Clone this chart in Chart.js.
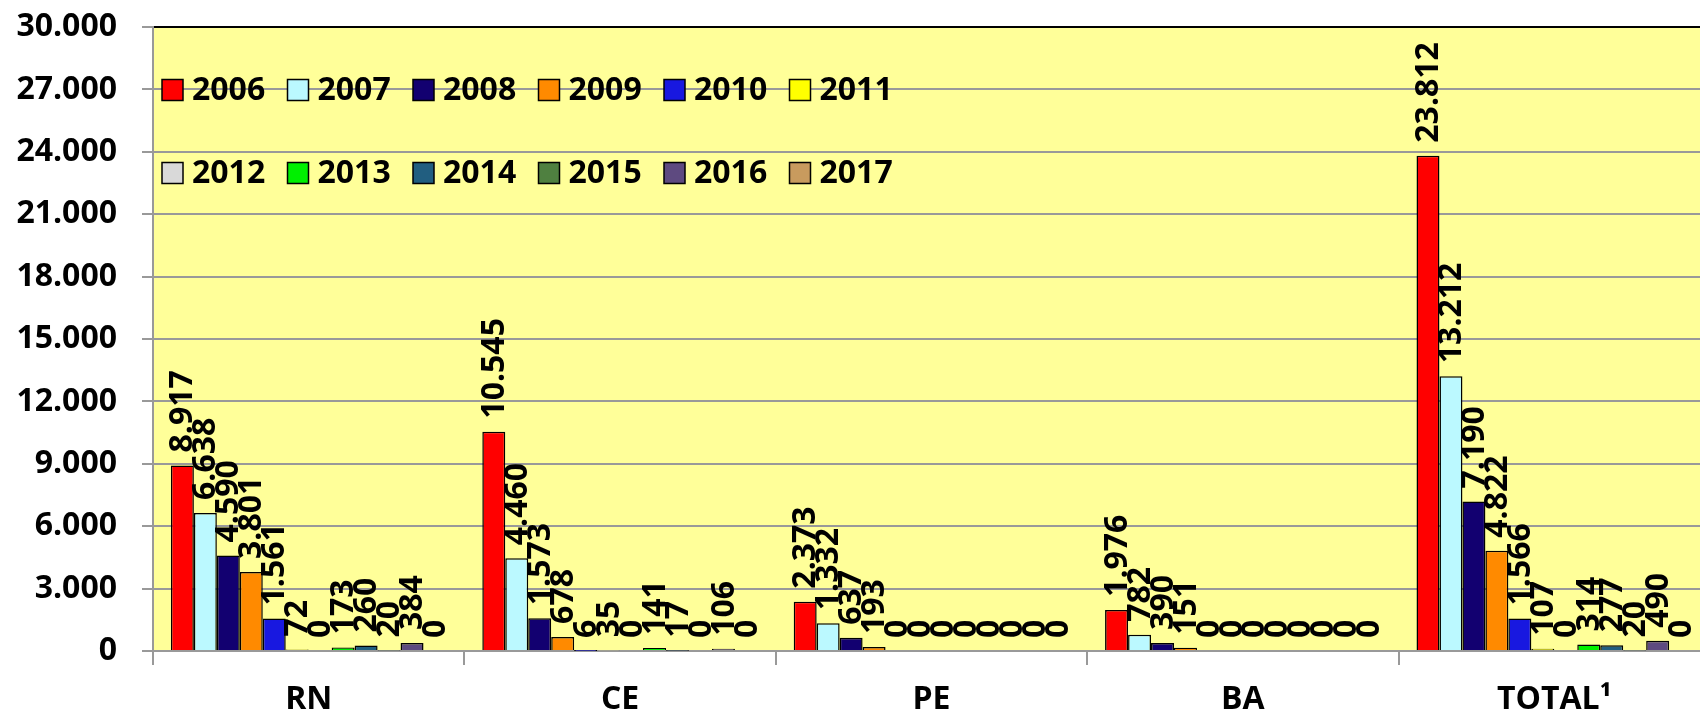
<!DOCTYPE html>
<html>
<head>
<meta charset="utf-8">
<script src="https://cdn.jsdelivr.net/npm/chart.js@4.4.1/dist/chart.umd.min.js"></script>
<style>
  body { margin: 0; overflow: hidden; background: #fff; }
  canvas { display: block; }
</style>
</head>
<body>
<canvas id="chart" width="1712" height="711"></canvas>
<script>
const categories = ['RN', 'CE', 'PE', 'BA', 'TOTAL¹'];
const years = ['2006', '2007', '2008', '2009', '2010', '2011', '2012', '2013', '2014', '2015', '2016', '2017'];

// values per year, in category order RN, CE, PE, BA, TOTAL
const y2006 = [8917, 10545, 2373, 1976, 23812];
const y2007 = [6638, 4460, 1332, 782, 13212];
const y2008 = [4590, 1573, 637, 390, 7190];
const y2009 = [3801, 678, 193, 151, 4822];
const y2010 = [1561, 6, 0, 0, 1566];
const y2011 = [72, 35, 0, 0, 107];
const y2012 = [0, 0, 0, 0, 0];
const y2013 = [173, 141, 0, 0, 314];
const y2014 = [260, 17, 0, 0, 277];
const y2015 = [20, 0, 0, 0, 20];
const y2016 = [384, 106, 0, 0, 490];
const y2017 = [0, 0, 0, 0, 0];

const series = [y2006, y2007, y2008, y2009, y2010, y2011, y2012, y2013, y2014, y2015, y2016, y2017];
const colors = ['#FF0000', '#BBF9FF', '#120070', '#FF8A00', '#1818E0', '#FFFF00',
                '#D9D9D9', '#00F000', '#215E80', '#4F8040', '#5E4A80', '#C89B5E'];

const FONT = { family: '"Open Sans", sans-serif', size: 32, weight: 'bold' };
const fmt = v => String(v).replace(/\B(?=(\d{3})+(?!\d))/g, '.');

// yellow plot background
const plotBg = {
    id: 'plotBg',
    beforeDraw(chart) {
        const { ctx, chartArea: a } = chart;
        ctx.save();
        ctx.fillStyle = '#fff';
        ctx.fillRect(0, 0, chart.width, chart.height);
        ctx.fillStyle = '#FFFF99';
        ctx.fillRect(a.left, a.top, a.right - a.left, a.bottom - a.top);
        ctx.restore();
    }
};

// vertical value labels above each bar
const barLabels = {
    id: 'barLabels',
    afterDatasetsDraw(chart) {
        const ctx = chart.ctx;
        ctx.save();
        ctx.font = `${FONT.weight} ${FONT.size}px ${FONT.family}`;
        ctx.fillStyle = '#000';
        ctx.textAlign = 'left';
        ctx.textBaseline = 'middle';
        chart.data.datasets.forEach((ds, i) => {
            chart.getDatasetMeta(i).data.forEach((bar, j) => {
                ctx.save();
                ctx.translate(bar.x + 1, bar.y - 13);
                ctx.rotate(-Math.PI / 2);
                ctx.fillText(fmt(ds.data[j]), 0, 0);
                ctx.restore();
            });
        });
        ctx.restore();
    }
};

// legend inside the plot, two rows of six
const innerLegend = {
    id: 'innerLegend',
    afterDraw(chart) {
        const ctx = chart.ctx;
        ctx.save();
        ctx.font = `${FONT.weight} ${FONT.size}px ${FONT.family}`;
        ctx.textAlign = 'left';
        ctx.textBaseline = 'middle';
        chart.data.datasets.forEach((ds, i) => {
            const x = 162 + (i % 6) * 125.5;
            const y = i < 6 ? 90 : 173;
            ctx.fillStyle = ds.backgroundColor;
            ctx.fillRect(x, y - 10.5, 21, 21);
            ctx.strokeStyle = '#000';
            ctx.lineWidth = 1.5;
            ctx.strokeRect(x, y - 10.5, 21, 21);
            ctx.fillStyle = '#000';
            ctx.fillText(ds.label, x + 30, y + 1);
        });
        ctx.restore();
    }
};

new Chart(document.getElementById('chart').getContext('2d'), {
    type: 'bar',
    data: {
        labels: categories,
        datasets: years.map((yr, i) => ({
            label: yr,
            data: series[i],
            backgroundColor: colors[i],
            borderColor: '#000',
            borderWidth: 1.5,
            categoryPercentage: 0.885,
            barPercentage: 1
        }))
    },
    options: {
        responsive: false,
        animation: false,
        layout: { padding: { top: 27, right: 2, left: 0, bottom: 0 } },
        plugins: {
            legend: { display: false },
            tooltip: { enabled: false }
        },
        scales: {
            x: {
                offset: true,
                grid: { offset: true, drawOnChartArea: false, tickLength: 14, color: '#999', lineWidth: 2 },
                border: { color: '#999', width: 2 },
                ticks: { font: FONT, color: '#000', padding: 16 },
                afterFit(s) { s.height = 60; s.paddingLeft = 0; s.paddingRight = 0; }
            },
            y: {
                min: 0,
                max: 30000,
                ticks: { stepSize: 3000, font: FONT, color: '#000', padding: 25, callback: v => fmt(v) },
                grid: {
                    color: c => c.tick && c.tick.value === 30000 ? '#000' : '#999',
                    tickColor: '#999',
                    lineWidth: 2,
                    tickLength: 11
                },
                border: { color: '#999', width: 2 },
                afterFit(s) { s.width = 153; s.paddingTop = 0; s.paddingBottom = 0; }
            }
        }
    },
    plugins: [plotBg, barLabels, innerLegend]
});
</script>
</body>
</html>
